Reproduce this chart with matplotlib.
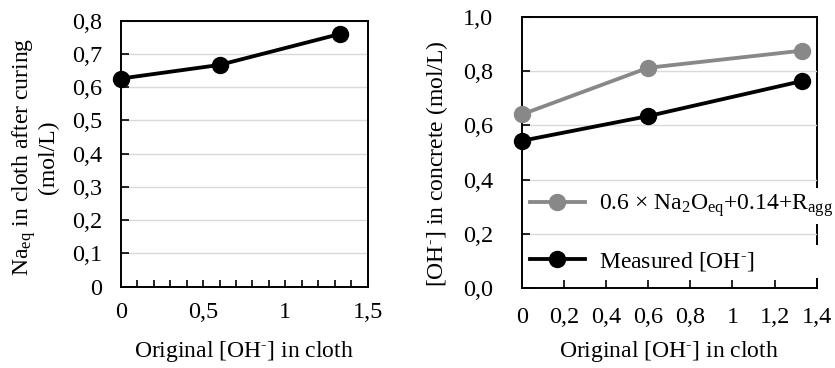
import matplotlib
matplotlib.use("Agg")
import matplotlib.pyplot as plt
from matplotlib.ticker import FixedLocator, MultipleLocator

plt.rcParams['font.family'] = ['Liberation Serif', 'DejaVu Serif']
plt.rcParams['mathtext.fontset'] = 'custom'
plt.rcParams['mathtext.rm'] = 'Liberation Serif'
plt.rcParams['mathtext.it'] = 'Liberation Serif:italic'
plt.rcParams['mathtext.bf'] = 'Liberation Serif:bold'
plt.rcParams['font.size'] = 17

# Original [OH-] in the cloth (mol/L)
cloth_oh = [0.0, 0.6, 1.33]
# Na_eq remaining in the cloth after curing (mol/L)
na_eq_after = [0.626, 0.667, 0.76]
# [OH-] in concrete: estimate and measurement (mol/L)
predicted_oh = [0.64, 0.812, 0.875]
measured_oh = [0.543, 0.634, 0.763]

left_xticks = [0, 0.5, 1.0, 1.5]
left_xticklabels = ['0', '0,5', '1', '1,5']
left_yticks = [0, 0.1, 0.2, 0.3, 0.4, 0.5, 0.6, 0.7, 0.8]
left_yticklabels = ['0', '0,1', '0,2', '0,3', '0,4', '0,5', '0,6', '0,7', '0,8']
right_xticks = [0, 0.2, 0.4, 0.6, 0.8, 1.0, 1.2, 1.4]
right_xticklabels = ['0', '0,2', '0,4', '0,6', '0,8', '1', '1,2', '1,4']
right_yticks = [0, 0.2, 0.4, 0.6, 0.8, 1.0]
right_yticklabels = ['0,0', '0,2', '0,4', '0,6', '0,8', '1,0']

OH = r'[OH$^{\text{-}}$]'
label_est = r'0.6 × Na$_2$O$_{\mathrm{eq}}$+0.14+R$_{\mathrm{agg}}$'
label_meas = 'Measured ' + OH
xlabel = 'Original ' + OH + ' in cloth'

GRAY = '#888888'
GRID = '#d9d9d9'
LW = 2.75
MS = 11.5
SPINE_W = 1.4
TICK_FS = 17.5
TEXT_FS = 17

fig = plt.figure(figsize=(8.35, 3.68), dpi=100)
ax1 = fig.add_axes([0.1446, 0.2209, 0.2958, 0.7228])
ax2 = fig.add_axes([0.6248, 0.2166, 0.3533, 0.738])

for ax in (ax1, ax2):
    ax.set_axisbelow(True)
    ax.yaxis.grid(True, color=GRID, linewidth=1.0)
    ax.xaxis.grid(False)
    for sp in ax.spines.values():
        sp.set_linewidth(SPINE_W)
        sp.set_color('black')

# ---- left panel ----
ax1.plot(cloth_oh, na_eq_after, color='black', lw=LW, marker='o', ms=MS,
         zorder=3, clip_on=False)
ax1.set_xlim(0, 1.5)
ax1.set_ylim(0, 0.8)
ax1.xaxis.set_major_locator(FixedLocator(left_xticks))
ax1.set_xticklabels(left_xticklabels)
ax1.xaxis.set_minor_locator(MultipleLocator(0.1))
ax1.yaxis.set_major_locator(FixedLocator(left_yticks))
ax1.set_yticklabels(left_yticklabels)
ax1.tick_params(axis='x', which='both', direction='in', length=5, width=1.2,
                pad=11, labelsize=TICK_FS)
ax1.tick_params(axis='y', which='both', direction='in', length=5.5, width=1.2,
                pad=13.5, labelsize=TICK_FS)
ax1.set_xlabel(xlabel, fontsize=TEXT_FS)
ax1.xaxis.set_label_coords(0.5, -0.195)
ax1.set_ylabel('Na$_{\\mathrm{eq}}$ in cloth after curing\n(mol/L)',
               fontsize=TEXT_FS, linespacing=1.0)
ax1.yaxis.set_label_coords(-0.25, 0.488)

# ---- right panel ----
ax2.plot(cloth_oh, predicted_oh, color=GRAY, lw=LW, marker='o', ms=MS,
         zorder=3, clip_on=False, label=label_est)
ax2.plot(cloth_oh, measured_oh, color='black', lw=LW, marker='o', ms=MS,
         zorder=3, clip_on=False, label=label_meas)
ax2.set_xlim(0, 1.4)
ax2.set_ylim(0, 1.0)
ax2.xaxis.set_major_locator(FixedLocator(right_xticks))
ax2.set_xticklabels(right_xticklabels)
ax2.yaxis.set_major_locator(FixedLocator(right_yticks))
ax2.set_yticklabels(right_yticklabels)
ax2.tick_params(axis='x', direction='in', length=6, width=1.2, pad=13.5,
                labelsize=TICK_FS)
ax2.tick_params(axis='y', direction='in', length=6, width=1.2, pad=20.5,
                labelsize=TICK_FS)
ax2.set_xlabel(xlabel, fontsize=TEXT_FS)
ax2.xaxis.set_label_coords(0.5, -0.185)
ax2.set_ylabel('[OH$^{\\text{-}}$] in concrete (mol/L)', fontsize=TEXT_FS)
ax2.yaxis.set_label_coords(-0.243, 0.458)

# the legend boxes sit above the right spine but under the gridlines
ax2.spines['right'].set_zorder(0.3)
h_est, h_meas = ax2.get_lines()
leg_kw = dict(frameon=True, facecolor='white', edgecolor='none', framealpha=1,
              fancybox=False, borderpad=0.2, borderaxespad=0, handlelength=2.3,
              handletextpad=0.62, fontsize=TEXT_FS)
leg1 = ax2.legend([h_est], [label_est], loc='center left',
                  bbox_to_anchor=(0.013, 0.303), **leg_kw)
leg1.set_zorder(0.4)
ax2.add_artist(leg1)
leg2 = ax2.legend([h_meas], [label_meas], loc='center left', mode='expand',
                  bbox_to_anchor=(0.013, 0.028, 1.05, 0.14), **leg_kw)
leg2.set_zorder(0.4)

fig.savefig('out.png', dpi=100)
